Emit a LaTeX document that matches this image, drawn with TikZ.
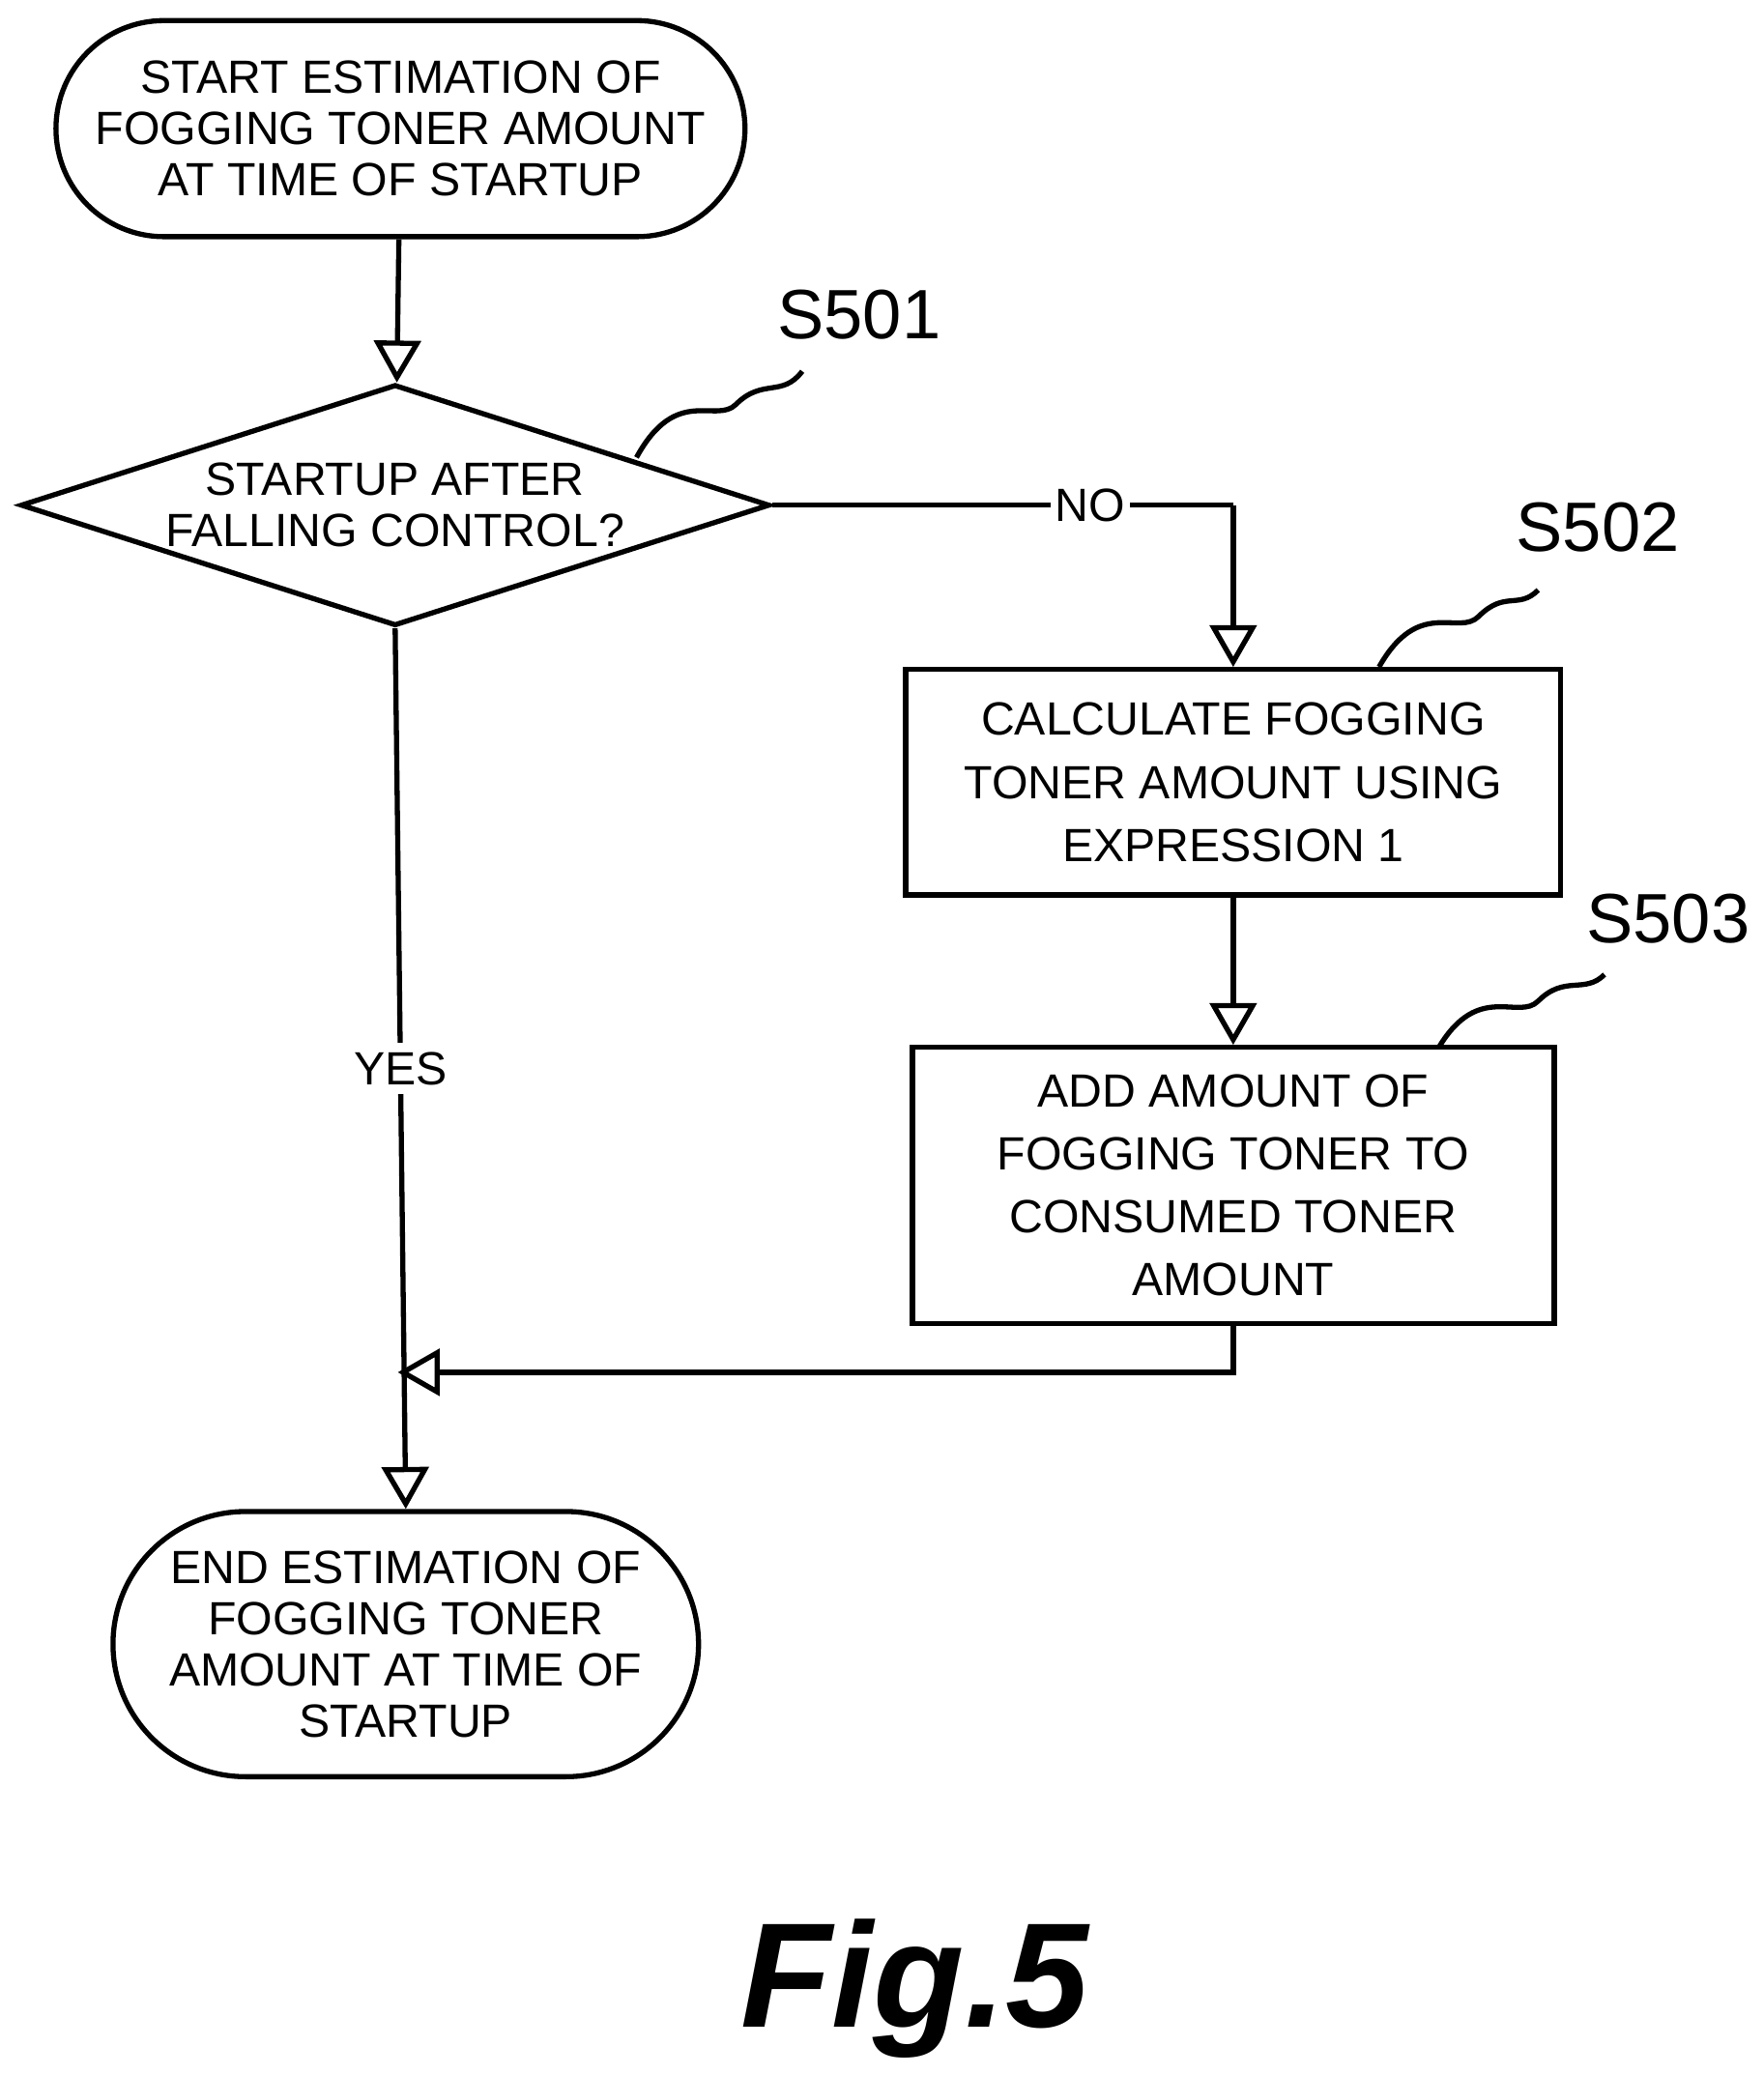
\documentclass[tikz,border=0pt]{standalone}
\usepackage{fontspec}
\setmainfont{Liberation Sans}
\usetikzlibrary{arrows.meta,shapes.geometric,shapes.misc,positioning}
\tikzstyle{edge}=[line width=1.1pt, -{Triangle[open,length=9pt,width=10pt]}]
\tikzstyle{line}=[line width=1.1pt]
\tikzstyle{term}=[rounded rectangle, draw, line width=1.1pt, align=center, font=\fontsize{10}{11}\selectfont]
\tikzstyle{proc}=[rectangle, draw, line width=1.1pt, align=center, font=\fontsize{10}{13.5}\selectfont]
\tikzstyle{stepL}=[font=\fontsize{15}{15}\selectfont]
\begin{document}
\begin{tikzpicture}[x=0.1mm, y=-0.1mm]
      \useasboundingbox (0,0) rectangle (1330,1565);
      %%%%%%%%%%%% nodes
      \node(start) [term, minimum width=50mm, minimum height=16.3mm] at (302, 97){START ESTIMATION OF\\FOGGING TONER AMOUNT\\AT TIME OF STARTUP};
      \node(dec) [diamond, draw, line width=1.1pt, aspect=3.1, minimum width=56.5mm, minimum height=18.2mm, inner sep=0pt, align=center, font=\fontsize{10}{11}\selectfont] at (298, 381){STARTUP AFTER\\FALLING CONTROL?};
      \node(calc) [proc, minimum width=49.4mm, minimum height=17mm] at (930, 590){CALCULATE FOGGING\\TONER AMOUNT USING\\EXPRESSION 1};
      \node(add) [proc, minimum width=48.4mm, minimum height=20.8mm] at (930, 894){ADD AMOUNT OF\\FOGGING TONER TO\\CONSUMED TONER\\AMOUNT};
      \node(end) [term, minimum width=46.5mm, minimum height=20mm] at (306, 1240){END ESTIMATION OF\\FOGGING TONER\\AMOUNT AT TIME OF\\STARTUP};
      \coordinate(nocorner) at (930, 381);
      \coordinate(join) at (300, 1035);
      %%%%%%%%%%%% connectors
      \draw[edge] (start) to (dec);
      \draw[line] (dec.east) -- (nocorner) node[pos=0.69, fill=white, inner sep=1pt, font=\fontsize{10}{11}\selectfont]{NO};
      \draw[edge] (nocorner) to (calc.north);
      \draw[edge] (calc) to (add);
      \draw[edge] (dec.south) -- (end.north) node[pos=0.5, fill=white, inner sep=2pt, font=\fontsize{10}{11}\selectfont]{YES};
      \draw[edge] (add.south) |- (join);
      %%%%%%%%%%%% step labels
      \node(l1) [stepL] at (648, 237){S501};
      \node(l2) [stepL] at (1205, 398){S502};
      \node(l3) [stepL] at (1258, 693){S503};
      \draw[line] (480, 345) .. controls (510, 290) and (540, 320) .. (555, 305) .. controls (575, 285) and (590, 300) .. (605, 280);
      \draw[line] (1040, 503) .. controls (1070, 450) and (1100, 480) .. (1115, 465) .. controls (1135, 445) and (1145, 460) .. (1160, 445);
      \draw[line] (1085, 790) .. controls (1115, 740) and (1145, 770) .. (1160, 755) .. controls (1180, 735) and (1195, 750) .. (1210, 735);
      \node(fig) [font=\fontsize{32}{32}\selectfont\bfseries\itshape] at (690, 1500){Fig.5};
\end{tikzpicture}
\end{document}
